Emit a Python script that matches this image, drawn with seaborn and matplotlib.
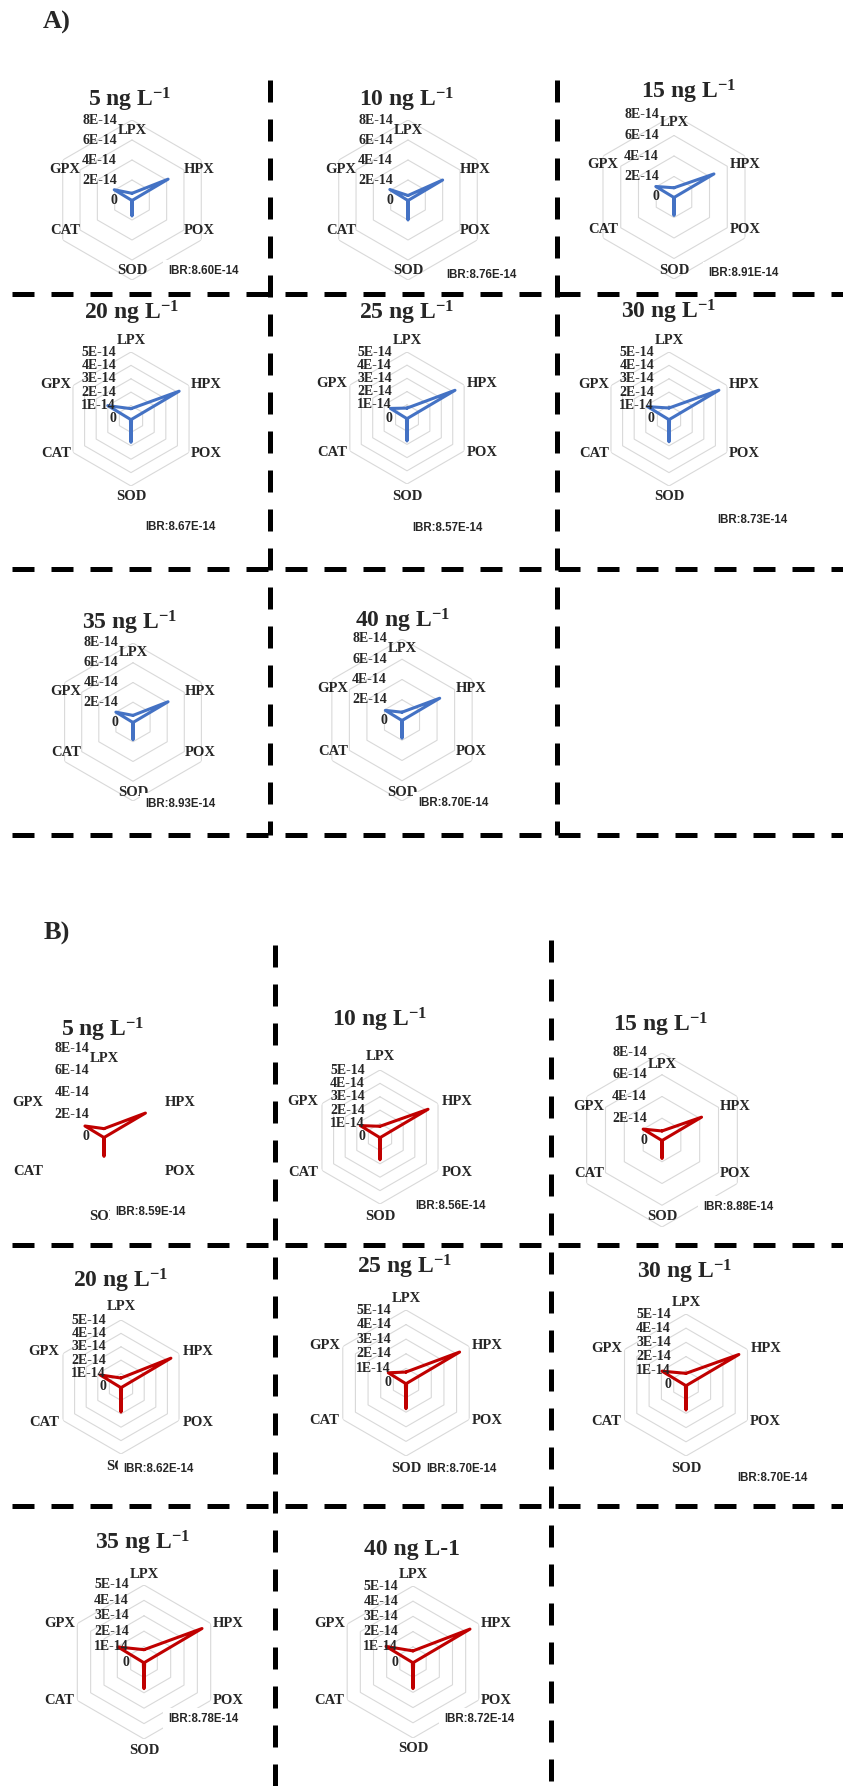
import numpy as np
import matplotlib
matplotlib.use("Agg")
import matplotlib.pyplot as plt
import seaborn as sns

# biomarker axes, clockwise from the top
biomarkers = ["LPX", "HPX", "POX", "SOD", "CAT", "GPX"]
concentrations = [5, 10, 15, 20, 25, 30, 35, 40]

# panel A (blue), values in units of 1E-14
a_lpx = [0.67, 0.45, 0.90, 0.77, 0.75, 0.82, 0.67, 0.77]
a_hpx = [4.17, 4.00, 4.50, 4.15, 4.20, 4.30, 4.10, 4.30]
a_pox = [0.05, 0.05, 0.05, 0.05, 0.05, 0.05, 0.05, 0.05]
a_sod = [1.60, 2.00, 1.80, 1.74, 1.74, 1.70, 1.80, 1.80]
a_cat = [0.05, 0.05, 0.05, 0.05, 0.05, 0.05, 0.05, 0.05]
a_gpx = [2.05, 2.10, 2.05, 2.00, 1.45, 1.85, 2.00, 1.90]
a_ibr = [8.60, 8.76, 8.91, 8.67, 8.57, 8.73, 8.93, 8.70]
a_max = [8, 8, 8, 5, 5, 5, 8, 8]

# panel B (red), values in units of 1E-14
b_lpx = [0.76, 0.80, 0.83, 0.67, 0.75, 0.82, 0.80, 0.73]
b_hpx = [4.35, 4.14, 4.20, 4.30, 4.24, 4.30, 4.35, 4.33]
b_pox = [0.05, 0.05, 0.05, 0.05, 0.05, 0.05, 0.05, 0.05]
b_sod = [1.76, 1.70, 1.70, 1.87, 1.76, 1.76, 1.73, 1.75]
b_cat = [0.05, 0.05, 0.05, 0.05, 0.05, 0.05, 0.05, 0.05]
b_gpx = [2.00, 1.70, 2.00, 1.80, 1.40, 1.95, 1.95, 2.05]
b_ibr = [8.59, 8.56, 8.88, 8.62, 8.70, 8.70, 8.78, 8.72]
b_max = [8, 5, 8, 5, 5, 5, 5, 5]

# layout in pixels: centre x, centre y, radius, label distance, title x/y, IBR x/y
layout_a = [
    (132, 200, 80, 70, 130, 100, 168, 271),
    (408, 200, 80, 70, 407, 100, 446, 275),
    (674, 197, 82, 74, 689, 92, 708, 273),
    (131, 419, 67, 78, 132, 313, 145, 527),
    (407, 418, 66, 78, 407, 313, 412, 528),
    (669, 419, 67, 78, 669, 312, 717, 520),
    (133, 722, 79, 70, 130, 623, 145, 804),
    (402, 720, 81, 72, 403, 621, 418, 803),
]
layout_b = [
    (104, 1137, 88, 79, 103, 1030, 115, 1212),
    (380, 1137, 67, 80, 380, 1020, 415, 1206),
    (662, 1140, 87, 76, 661, 1025, 703, 1207),
    (121, 1387, 67, 80, 121, 1281, 123, 1469),
    (406, 1383, 73, 85, 405, 1267, 426, 1469),
    (686, 1385, 71, 83, 685, 1272, 737, 1478),
    (144, 1662, 77, 88, 143, 1543, 168, 1719),
    (413, 1662, 76, 87, 412, 1550, 444, 1719),
]

W, H = 843, 1786
BLUE = "#4472C4"
RED = "#C00000"
SERIF = "Liberation Serif"

sns.set_theme(style="white")
plt.rcParams["font.family"] = [SERIF, "DejaVu Serif"]
plt.rcParams["mathtext.fontset"] = "custom"
plt.rcParams["mathtext.rm"] = "Liberation Serif:bold"
plt.rcParams["mathtext.bf"] = "Liberation Serif:bold"
plt.rcParams["mathtext.it"] = "Liberation Serif:bold"

fig = plt.figure(figsize=(W / 100, H / 100), dpi=100)
fig.patch.set_facecolor("white")

# overlay axes in pixel coordinates for titles, separators and IBR boxes
bg = fig.add_axes([0, 0, 1, 1])
bg.set_xlim(0, W)
bg.set_ylim(H, 0)
bg.axis("off")
bg.patch.set_visible(False)
bg.set_zorder(10)

theta = np.deg2rad(np.arange(6) * 60)
theta_c = np.append(theta, theta[0])
label_dirs = [(0, 1), (0.96, 0.44), (0.96, -0.44), (0, -1), (-0.96, -0.44), (-0.96, 0.44)]


def draw_radar(vals, rmax, color, lay, title, ibr, show_grid=True):
    cx, cy, R, L, tx, ty, ix, iy = lay
    ax = fig.add_axes([(cx - R) / W, 1 - (cy + R) / H, 2 * R / W, 2 * R / H],
                      projection="polar")
    ax.set_theta_zero_location("N")
    ax.set_theta_direction(-1)
    ax.grid(False)
    ax.spines["polar"].set_visible(False)
    ax.patch.set_alpha(0)

    step = 2 if rmax == 8 else 1
    ticks = np.arange(0, rmax + step, step)
    if show_grid:
        for t in ticks[1:]:
            ax.plot(theta_c, np.full(7, t), color="#d9d9d9", lw=0.8, zorder=1)

    r = np.append(vals, vals[0])
    sns.lineplot(x=theta_c, y=r, sort=False, estimator=None, color=color,
                 lw=2.2, ax=ax, zorder=3)
    ax.set_ylim(0, rmax)
    ax.set_xticks([])
    ax.set_yticks([])
    ax.set_xlabel("")
    ax.set_ylabel("")

    for t in ticks:
        lab = "0" if t == 0 else f"{t}E-14"
        ax.annotate(lab, xy=(0, t), xytext=(-15, 0), textcoords="offset pixels",
                    ha="right", va="center", fontsize=10, fontweight="bold",
                    annotation_clip=False)
    for name, (dx, dy) in zip(biomarkers, label_dirs):
        ax.annotate(name, xy=(0, 0), xytext=(dx * L, dy * L), textcoords="offset pixels",
                    ha="center", va="center", fontsize=10.5, fontweight="bold",
                    annotation_clip=False)

    bg.text(tx, ty, title, ha="center", va="center", fontsize=17, fontweight="bold")
    bg.text(ix, iy, f"IBR:{ibr:.2f}E-14", ha="left", va="center", fontsize=8.3,
            fontweight="bold", family="Liberation Sans",
            bbox=dict(boxstyle="square,pad=0.4", fc="white", ec="none"))


a_vals = list(zip(a_lpx, a_hpx, a_pox, a_sod, a_cat, a_gpx))
b_vals = list(zip(b_lpx, b_hpx, b_pox, b_sod, b_cat, b_gpx))

for i, c in enumerate(concentrations):
    draw_radar(np.array(a_vals[i]), a_max[i], BLUE, layout_a[i],
               rf"{c} ng L$^{{\mathbf{{-1}}}}$", a_ibr[i])
for i, c in enumerate(concentrations):
    title = f"{c} ng L-1" if c == 40 else rf"{c} ng L$^{{\mathbf{{-1}}}}$"
    draw_radar(np.array(b_vals[i]), b_max[i], RED, layout_b[i], title, b_ibr[i],
               show_grid=(i != 0))

# dashed separators
dash = dict(color="black", lw=3.6, linestyle=(0, (4.4, 3.4)), solid_capstyle="butt")
for y in [294, 569, 835]:
    bg.plot([12, W], [y, y], **dash)
bg.plot([270, 270], [80, 835], **dash)
bg.plot([557, 557], [80, 835], **dash)
for y in [1245, 1506]:
    bg.plot([12, W], [y, y], **dash)
bg.plot([275, 275], [945, H], **dash)
bg.plot([551, 551], [940, H], **dash)

bg.text(57, 22, "A)", ha="center", va="center", fontsize=19, fontweight="bold")
bg.text(57, 933, "B)", ha="center", va="center", fontsize=19, fontweight="bold")

fig.savefig("out.png", dpi=100)
